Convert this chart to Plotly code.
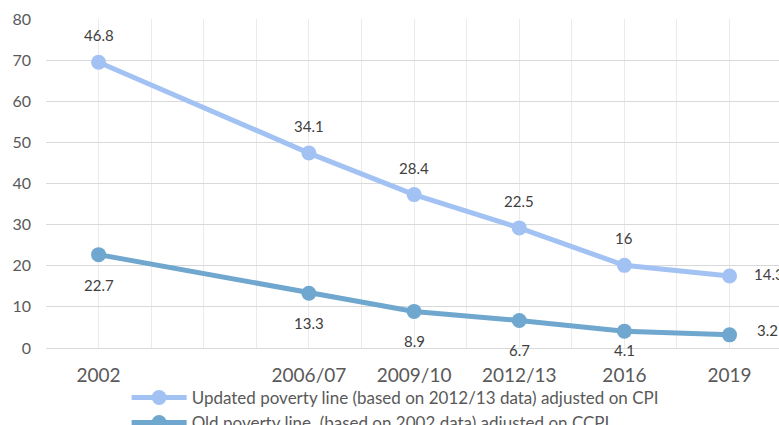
import plotly.graph_objects as go

# Survey rounds on the category axis (one empty slot between 2002 and 2006/07)
periods = ["2002", "", "2006/07", "2009/10", "2012/13", "2016", "2019"]
rounds = ["2002", "2006/07", "2009/10", "2012/13", "2016", "2019"]

# Poverty headcount (%), old line is the base, updated line stacks on top of it
old_line = [22.7, 13.3, 8.9, 6.7, 4.1, 3.2]
updated_line = [46.8, 34.1, 28.4, 22.5, 16, 14.3]

name_updated = "Updated poverty line (based on 2012/13 data) adjusted on CPI"
name_old = "Old poverty line\u00a0 (based on 2002 data) adjusted on CCPI"

col_updated = "#A3C2F4"
col_old = "#6FA7CE"
font_family = "Lato, 'Open Sans', sans-serif"

x_pos = [periods.index(r) for r in rounds]

fig = go.Figure()
fig.add_trace(go.Scatter(
    x=x_pos, y=old_line, name=name_old, mode="lines+markers",
    stackgroup="poverty", fill="none",
    line=dict(color=col_old, width=5), marker=dict(color=col_old, size=15),
    legendrank=2,
))
fig.add_trace(go.Scatter(
    x=x_pos, y=updated_line, name=name_updated, mode="lines+markers",
    stackgroup="poverty", fill="none",
    line=dict(color=col_updated, width=5), marker=dict(color=col_updated, size=15),
    legendrank=1,
))

# Data labels: updated series above its (stacked) point, old series below,
# last round written to the right of the point.
plot_h = 329
y_max = 80
px_per_unit = plot_h / y_max
label_font = dict(family=font_family, size=15, color="#404040")
last = len(rounds) - 1
for i, (xv, lo, up) in enumerate(zip(x_pos, old_line, updated_line)):
    top = lo + up
    if i == last:
        fig.add_annotation(x=xv, y=top, text=str(up), showarrow=False,
                           xanchor="left", xshift=22, yshift=2, font=label_font)
        fig.add_annotation(x=xv, y=lo, text=str(lo), showarrow=False,
                           xanchor="left", xshift=25, yshift=5, font=label_font)
    else:
        fig.add_annotation(x=xv, y=top, text=str(up), showarrow=False,
                           yshift=27, font=label_font)
        shift_down = max(-30, -(lo * px_per_unit) - 2)
        fig.add_annotation(x=xv, y=lo, text=str(lo), showarrow=False,
                           yshift=shift_down, font=label_font)

fig.update_layout(
    width=779, height=425,
    margin=dict(l=46, r=0, t=19, b=77, autoexpand=False),
    paper_bgcolor="white", plot_bgcolor="white",
    font=dict(family=font_family, color="#595959"),
    showlegend=True,
    legend=dict(
        x=0.11, y=-0.097, xanchor="left", yanchor="top",
        orientation="v", font=dict(size=17, color="#595959"),
        bgcolor="rgba(0,0,0,0)", tracegroupgap=0, itemwidth=55,
    ),
    xaxis=dict(
        range=[-0.5, 6.47],
        tickmode="array", tickvals=x_pos, ticktext=rounds,
        showgrid=False, zeroline=False, showline=False, ticks="",
        ticklabelstandoff=14,
        tickfont=dict(size=19, color="#595959"),
        minor=dict(tickmode="linear", tick0=-0.5, dtick=0.5,
                   showgrid=True, gridcolor="#EBEBEB", gridwidth=1, ticks=""),
    ),
    yaxis=dict(
        range=[0, y_max], tickmode="linear", tick0=0, dtick=10,
        showgrid=True, gridcolor="#D9D9D9", gridwidth=1,
        zeroline=True, zerolinecolor="#D9D9D9", zerolinewidth=1,
        showline=False, ticks="", ticklabelstandoff=14,
        tickfont=dict(size=16, color="#595959"),
    ),
)

fig.write_html("out.html")
